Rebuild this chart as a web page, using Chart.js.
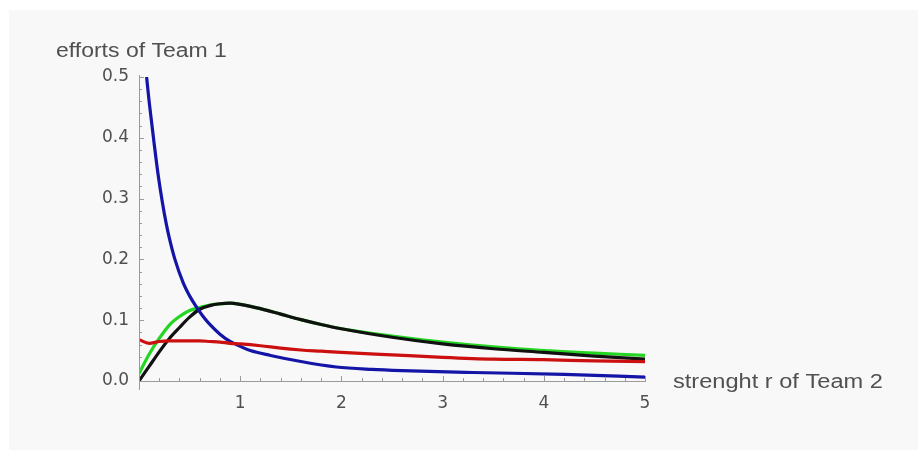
<!DOCTYPE html>
<html>
<head>
<meta charset="utf-8">
<script src="https://cdn.jsdelivr.net/npm/chart.js@4.4.1/dist/chart.umd.min.js"></script>
<style>
  html, body { margin: 0; padding: 0; background: #fff; }
  #frame { position: absolute; left: 9px; top: 10px; width: 909px; height: 440px; background: #f8f8f8; }
  #c { position: absolute; left: 0; top: 0; }
</style>
</head>
<body>
<div id="frame"></div>
<canvas id="c" width="920" height="450"></canvas>
<script>
// strength r of team 2 (x) shared by black, green and red curves
const rValues = [0, 0.1, 0.2, 0.3, 0.4, 0.5, 0.6, 0.7, 0.8, 0.9, 1.0, 1.2, 1.4, 1.6, 1.8, 2.0, 2.5, 3.0, 3.5, 4.0, 4.5, 5.0];
const blackEffort = [0, 0.024, 0.048, 0.070, 0.088, 0.105, 0.118, 0.124, 0.127, 0.128, 0.126, 0.119, 0.110, 0.101, 0.093, 0.086, 0.072, 0.061, 0.053, 0.047, 0.041, 0.036];
const greenEffort = [0.012, 0.044, 0.070, 0.092, 0.106, 0.116, 0.121, 0.125, 0.127, 0.128, 0.126, 0.119, 0.110, 0.101, 0.093, 0.086, 0.074, 0.064, 0.056, 0.050, 0.046, 0.042];
const redEffort = [0.068, 0.062, 0.065, 0.066, 0.066, 0.066, 0.066, 0.065, 0.064, 0.062, 0.061, 0.058, 0.054, 0.051, 0.049, 0.047, 0.043, 0.039, 0.036, 0.035, 0.033, 0.032];

// blue curve has its own sampling (starts off the axis, very steep)
const blueR = [0.075, 0.1, 0.125, 0.15, 0.19, 0.23, 0.27, 0.3, 0.355, 0.44, 0.5, 0.57, 0.63, 0.7, 0.8, 0.9, 1.0, 1.1, 1.3, 1.6, 1.95, 2.3, 2.6, 3.3, 4.2, 5.0];
const blueEffort = [0.5, 0.46, 0.425, 0.39, 0.338, 0.295, 0.258, 0.235, 0.2, 0.16, 0.14, 0.121, 0.107, 0.093, 0.077, 0.065, 0.057, 0.05, 0.042, 0.032, 0.023, 0.019, 0.017, 0.014, 0.011, 0.0065];

const xTicks = [1, 2, 3, 4, 5];
const yTicks = [0.0, 0.1, 0.2, 0.3, 0.4, 0.5];
const yTitle = "efforts of Team 1";
const xTitle = "strenght r of Team 2";

function pts(xs, ys) {
  return xs.map((x, i) => ({ x: x, y: ys[i] }));
}

function lineSet(label, xs, ys, color) {
  return {
    label: label,
    data: pts(xs, ys),
    borderColor: color,
    borderWidth: 3.2,
    pointRadius: 0,
    cubicInterpolationMode: "monotone",
    fill: false
  };
}

const textColor = "#505050";
const axisColor = "#9a9a9a";

// axes drawn Mathematica-style: lines through origin, ticks pointing inward
const axesPlugin = {
  id: "axes",
  afterDatasetsDraw(chart) {
    const ctx = chart.ctx;
    const xs = chart.scales.x, ys = chart.scales.y;
    const x0 = xs.getPixelForValue(0), y0 = ys.getPixelForValue(0);
    ctx.save();
    ctx.strokeStyle = axisColor;
    ctx.lineWidth = 1;
    ctx.beginPath();
    ctx.moveTo(x0 + 0.5, y0 + 9);
    ctx.lineTo(x0 + 0.5, ys.getPixelForValue(0.5) - 2);
    ctx.moveTo(x0, y0 + 0.5);
    ctx.lineTo(xs.getPixelForValue(5) + 1, y0 + 0.5);
    for (let i = 1; i <= 25; i++) {
      const v = i * 0.2;
      const px = Math.round(xs.getPixelForValue(v)) + 0.5;
      const len = i % 5 === 0 ? 5 : 3;
      ctx.moveTo(px, y0);
      ctx.lineTo(px, y0 - len);
    }
    for (let i = 1; i <= 25; i++) {
      const v = i * 0.02;
      const py = Math.round(ys.getPixelForValue(v)) + 0.5;
      const len = i % 5 === 0 ? 5 : 3;
      ctx.moveTo(x0, py);
      ctx.lineTo(x0 + len, py);
    }
    ctx.stroke();
    ctx.restore();
  },
  afterDraw(chart) {
    const ctx = chart.ctx;
    ctx.save();
    ctx.fillStyle = textColor;
    ctx.font = '20px "Liberation Sans", Arial, sans-serif';
    ctx.textBaseline = "alphabetic";
    ctx.translate(56, 57);
    ctx.scale(1.15, 1);
    ctx.fillText(yTitle, 0, 0);
    ctx.restore();
    ctx.save();
    ctx.fillStyle = textColor;
    ctx.font = '20px "Liberation Sans", Arial, sans-serif';
    ctx.textBaseline = "alphabetic";
    ctx.translate(673, 388);
    ctx.scale(1.18, 1);
    ctx.fillText(xTitle, 0, 0);
    ctx.restore();
  }
};

const ctx = document.getElementById("c").getContext("2d");
const chart = new Chart(ctx, {
  type: "line",
  data: {
    datasets: [
      lineSet("red", rValues, redEffort, "#cc1010"),
      lineSet("blue", blueR, blueEffort, "#1414a6"),
      lineSet("black", rValues, blackEffort, "#111111"),
      lineSet("green", rValues, greenEffort, "#22d622")
    ]
  },
  options: {
    responsive: false,
    animation: false,
    layout: { padding: { top: 77, right: 275, left: 0, bottom: 0 } },
    plugins: { legend: { display: false }, tooltip: { enabled: false } },
    scales: {
      x: {
        type: "linear",
        min: 0,
        max: 5,
        grid: { display: false, drawTicks: false },
        border: { display: false },
        afterFit: (s) => { s.height = 69; },
        afterBuildTicks: (s) => { s.ticks = xTicks.map(v => ({ value: v })); },
        ticks: {
          padding: 12,
          color: textColor,
          font: { family: "DejaVu Sans", size: 17 },
          callback: (v) => String(v)
        }
      },
      y: {
        type: "linear",
        min: 0,
        max: 0.5,
        grid: { display: false, drawTicks: false },
        border: { display: false },
        afterFit: (s) => { s.width = 139; },
        afterBuildTicks: (s) => { s.ticks = yTicks.map(v => ({ value: v })); },
        ticks: {
          padding: 10,
          color: textColor,
          font: { family: "DejaVu Sans", size: 17 },
          callback: (v) => Number(v).toFixed(1)
        }
      }
    }
  },
  plugins: [axesPlugin]
});
</script>
</body>
</html>
